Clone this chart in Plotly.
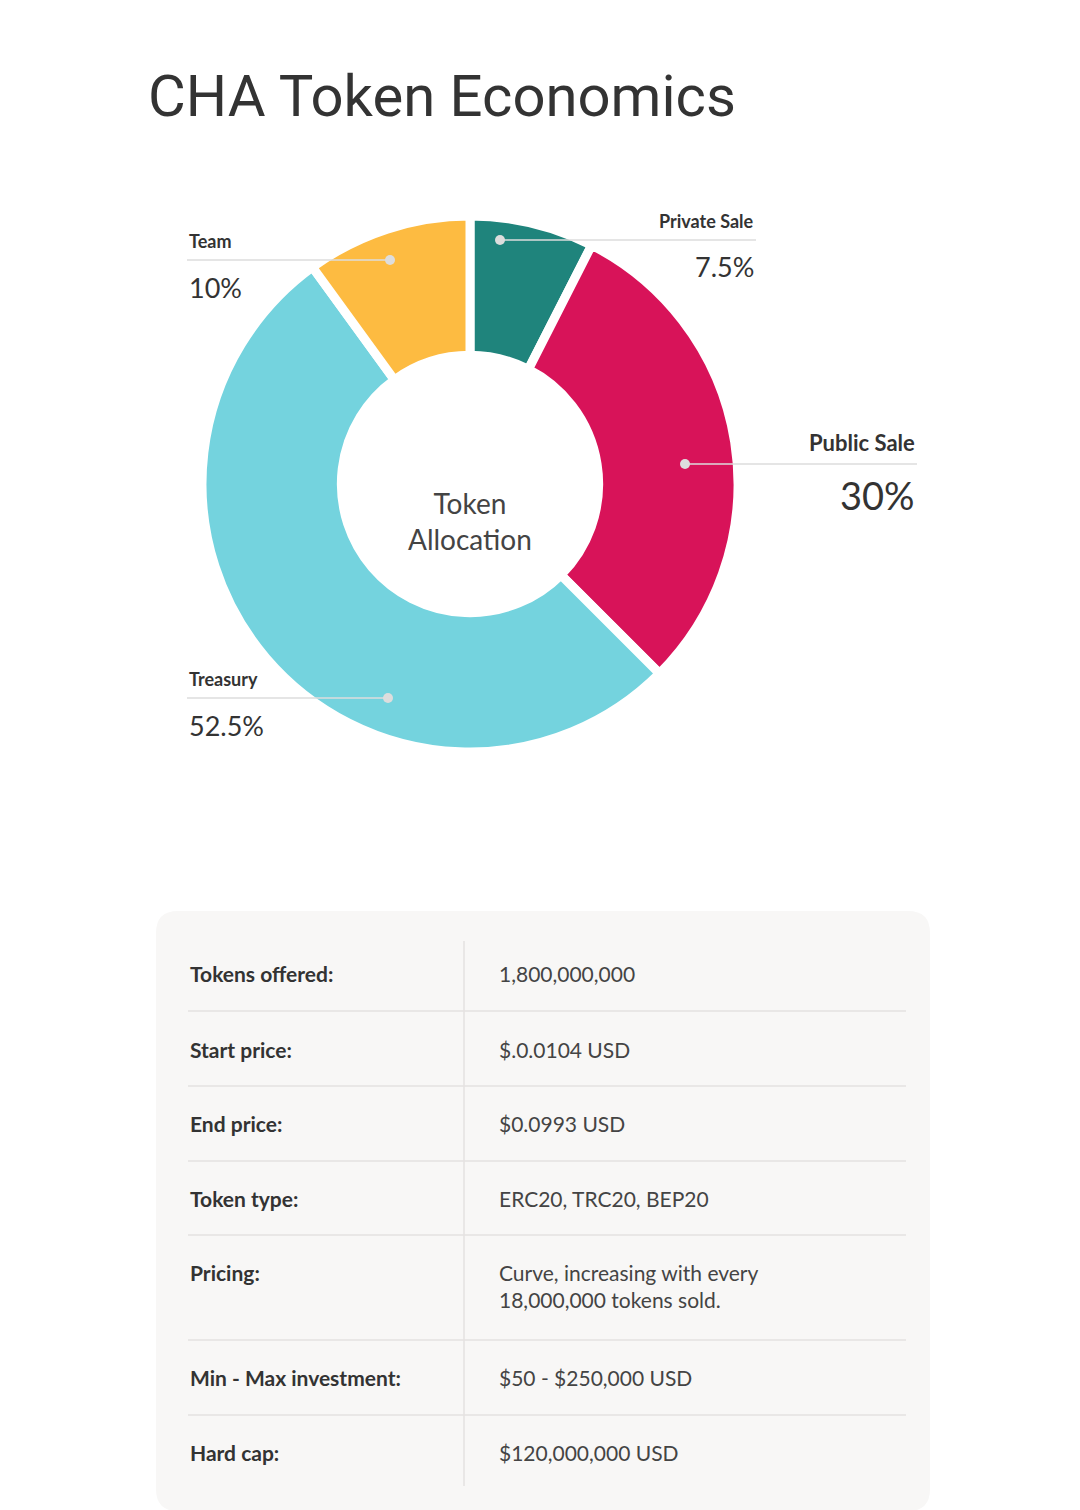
import plotly.graph_objects as go

W, H = 1080, 1510

labels = ["Private Sale", "Public Sale", "Treasury", "Team"]
values = [7.5, 30, 52.5, 10]
pct_text = ["7.5%", "30%", "52.5%", "10%"]
colors = ["#1F847C", "#D81359", "#74D3DE", "#FDBB41"]

row_labels = ["Tokens offered:", "Start price:", "End price:", "Token type:",
              "Pricing:", "Min - Max investment:", "Hard cap:"]
row_values = ["1,800,000,000", "$.0.0104 USD", "$0.0993 USD", "ERC20, TRC20, BEP20",
              "Curve, increasing with every<br>18,000,000 tokens sold.",
              "$50 - $250,000 USD", "$120,000,000 USD"]


def px(x):
    return x / W


def py(y):
    return 1 - y / H


FONT = "Lato"
fig = go.Figure()
fig.add_trace(go.Pie(
    labels=labels, values=values, sort=False, direction="clockwise", rotation=0,
    hole=0.48, marker=dict(colors=colors, line=dict(color="white", width=9)),
    textinfo="none", hoverinfo="none", showlegend=False,
    domain=dict(x=[px(194), px(730)], y=[py(744), py(208)]),
))

ann = []
shapes = []
ann.append(dict(x=px(138), y=py(88), text="CHA Token Economics", showarrow=False,
                xanchor="left", yanchor="middle", font=dict(size=58, color="#333", family="Roboto")))
ann.append(dict(x=px(462), y=py(476), text="Token<br>Allocation", showarrow=False,
                font=dict(size=28, color="#444", family=FONT)))

# callouts: (name_x, name_y, pct_y, anchor, line_x0, line_x1, line_y, dot_x, name_size, pct_size)
callouts = [
    (748, 213, 259, "right", 492, 748, 232, 492, 18, 27),
    (909, 434, 487, "right", 677, 909, 456, 677, 22, 38),
    (179, 671, 717, "left", 179, 380, 690, 380, 18, 27),
    (179, 233, 279, "left", 179, 382, 252, 382, 18, 27),
]
for i, (nx, ny, pyy, anc, lx0, lx1, ly, dx, ns, ps) in enumerate(callouts):
    ann.append(dict(x=px(nx), y=py(ny), text="<b>" + labels[i] + "</b>", showarrow=False,
                    xanchor=anc, yanchor="middle", font=dict(size=ns, color="#333", family=FONT)))
    ann.append(dict(x=px(nx), y=py(pyy), text=pct_text[i], showarrow=False,
                    xanchor=anc, yanchor="middle", font=dict(size=ps, color="#333", family=FONT)))
    shapes.append(dict(type="line", xref="paper", yref="paper", x0=px(lx0), x1=px(lx1),
                       y0=py(ly), y1=py(ly), line=dict(color="#DDDDDD", width=1.5)))
    shapes.append(dict(type="circle", xref="paper", yref="paper", x0=px(dx - 5), x1=px(dx + 5),
                       y0=py(ly + 5), y1=py(ly - 5), fillcolor="#DDDDDD", line=dict(width=0)))

# table background (rounded)
x0, x1, y0, y1, r = 148, 922, 903, 1503, 22
path = (f"M {px(x0 + r)} {py(y0)} L {px(x1 - r)} {py(y0)} "
        f"Q {px(x1)} {py(y0)} {px(x1)} {py(y0 + r)} L {px(x1)} {py(y1 - r)} "
        f"Q {px(x1)} {py(y1)} {px(x1 - r)} {py(y1)} L {px(x0 + r)} {py(y1)} "
        f"Q {px(x0)} {py(y1)} {px(x0)} {py(y1 - r)} L {px(x0)} {py(y0 + r)} "
        f"Q {px(x0)} {py(y0)} {px(x0 + r)} {py(y0)} Z")
shapes.insert(0, dict(type="path", xref="paper", yref="paper", path=path,
                      fillcolor="#F8F7F6", line=dict(width=0), layer="below"))
shapes.append(dict(type="line", xref="paper", yref="paper", x0=px(456), x1=px(456),
                   y0=py(933), y1=py(1478), line=dict(color="#E4E2E0", width=1.5)))

row_y = [966, 1041, 1115, 1190, 1264, 1369, 1444]
sep_y = [1003, 1078, 1153, 1227, 1332, 1407]
for yy in sep_y:
    shapes.append(dict(type="line", xref="paper", yref="paper", x0=px(180), x1=px(898),
                       y0=py(yy), y1=py(yy), line=dict(color="#E4E2E0", width=1.5)))
for lab, val, yy in zip(row_labels, row_values, row_y):
    ann.append(dict(x=px(180), y=py(yy), text="<b>" + lab + "</b>", showarrow=False,
                    xanchor="left", yanchor="middle", font=dict(size=21, color="#333", family=FONT)))
    ann.append(dict(x=px(489), y=py(yy), text=val, showarrow=False, align="left",
                    xanchor="left", yanchor="top" if "<br>" in val else "middle",
                    yshift=14 if "<br>" in val else 0,
                    font=dict(size=21, color="#444", family=FONT)))

fig.update_layout(width=W, height=H, margin=dict(l=0, r=0, t=0, b=0),
                  paper_bgcolor="white", plot_bgcolor="white",
                  annotations=ann, shapes=shapes)
fig.write_html("out.html")
